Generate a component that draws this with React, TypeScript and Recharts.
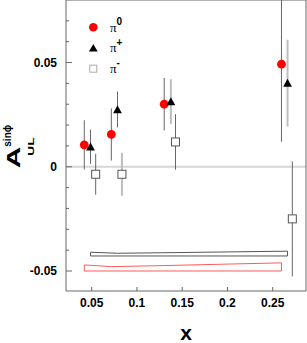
import React from "react";
import {
  ComposedChart,
  Scatter,
  Line,
  XAxis,
  YAxis,
  ErrorBar,
  ReferenceLine,
  Legend,
} from "recharts";

// pi0 (red circles)
const pi0X = [0.0418, 0.0717, 0.1301, 0.2597];
const pi0Y = [0.0105, 0.0155, 0.03, 0.0492];
const pi0Err = [0.0118, 0.0125, 0.0126, 0.0372];

// pi+ (black triangles)
const piPlusX = [0.0487, 0.0785, 0.1375, 0.2664];
const piPlusY = [0.0096, 0.0275, 0.0313, 0.0401];
const piPlusErr = [0.0082, 0.0086, 0.0107, 0.0208];

// pi- (open squares)
const piMinusX = [0.0544, 0.0834, 0.1426, 0.2717];
const piMinusY = [-0.0036, -0.0036, 0.0119, -0.025];
const piMinusErr = [0.0098, 0.0103, 0.0133, 0.0276];

// systematic bands
const pi0SysBase = -0.05;
const pi0SysTop = [-0.0471, -0.0479, -0.0474, -0.0461];
const piPlusSysBase = -0.0428;
const piPlusSysTop = [-0.041, -0.0415, -0.0412, -0.0405];

const seriesNames = ["π0", "π+", "π-"];
const xTicks = [0.05, 0.1, 0.15, 0.2, 0.25];
const yTicks = [-0.05, -0.04, -0.03, -0.02, -0.01, 0, 0.01, 0.02, 0.03, 0.04, 0.05, 0.06, 0.07];
const yMajor = [-0.05, 0, 0.05];

const X_MIN = 0.0216;
const X_MAX = 0.2868;
const Y_MIN = -0.0596;
const Y_MAX = 0.08;

// which error bars are drawn in light grey
const plusLightErr = [false, false, true, true];
const minusLightErr = [false, true, false, false];

const DARK = "#666";
const LIGHT = "#bdbdbd";
const SANS = "'Liberation Sans', Arial, sans-serif";

const toPoints = (xs: number[], ys: number[], errs: number[]) =>
  xs.map((x, i) => ({ x, y: ys[i], err: errs[i] }));

const band = (xs: number[], tops: number[], base: number) => [
  { x: xs[0], y: base },
  ...xs.map((x, i) => ({ x, y: tops[i] })),
  { x: xs[xs.length - 1], y: base },
  { x: xs[0], y: base },
];

const pi0Pts = toPoints(pi0X, pi0Y, pi0Err);
const plusPts = toPoints(piPlusX, piPlusY, piPlusErr);
const minusPts = toPoints(piMinusX, piMinusY, piMinusErr);

const Circle = (p: any) => <circle cx={p.cx} cy={p.cy} r={4.4} fill="#ff0000" />;
const Triangle = (p: any) => (
  <path
    d={`M${p.cx},${p.cy - 4.3}L${p.cx + 4.4},${p.cy + 3.7}L${p.cx - 4.4},${p.cy + 3.7}Z`}
    fill="#000"
  />
);
const Square = (p: any) => (
  <rect x={p.cx - 4} y={p.cy - 4} width={8} height={8} fill="#fff" stroke="#555" strokeWidth={1} />
);
const Nothing = () => <g />;

function fmt(v: number) {
  return String(Math.round(v * 100) / 100);
}

function YTick({ x, y, payload }: any) {
  const v = payload.value;
  const major = yMajor.some((m) => Math.abs(m - v) < 1e-9);
  return (
    <g>
      <line x1={x} x2={x + (major ? 6 : 3)} y1={y} y2={y} stroke={DARK} />
      {major && (
        <text x={x - 9} y={y} dy="0.36em" textAnchor="end" fontFamily={SANS} fontWeight="bold" fontSize={12} fill="#000">
          {fmt(v)}
        </text>
      )}
    </g>
  );
}

function XTick({ x, y, payload }: any) {
  return (
    <g>
      <line x1={x} x2={x} y1={y} y2={y - 4} stroke={DARK} />
      <text x={x} y={y + 16} textAnchor="middle" fontFamily={SANS} fontWeight="bold" fontSize={12} fill="#000">
        {fmt(payload.value)}
      </text>
    </g>
  );
}

// axis titles in an overlay, in page pixels (plot spans x 66..306, y 0..291)
function Titles() {
  return (
    <svg
      width={307}
      height={343}
      style={{ position: "absolute", left: 0, top: 0, pointerEvents: "none" }}
    >
      <text x={186} y={340} textAnchor="middle" fontFamily={SANS} fontWeight="bold" fontSize={21} fill="#000">
        x
      </text>
      <g fontFamily={SANS} fontWeight="bold" fill="#000">
        <text transform="translate(20,168.3) rotate(-90) scale(1.65,1)" fontSize={18}>
          A
        </text>
        <text transform="translate(11,146.7) rotate(-90)" fontSize={10}>
          sinϕ
        </text>
        <text transform="translate(33.5,155.7) rotate(-90) scale(1.45,1)" fontSize={9.5}>
          UL
        </text>
      </g>
    </svg>
  );
}

function legendMarker(name: string, cx: number, cy: number) {
  if (name === "π0") return <circle cx={cx} cy={cy} r={4.3} fill="#ff0000" />;
  if (name === "π+")
    return <path d={`M${cx},${cy - 4}L${cx + 4.4},${cy + 3.5}L${cx - 4.4},${cy + 3.5}Z`} fill="#000" />;
  return <rect x={cx - 3.5} y={cy - 3.5} width={7} height={7} fill="#fff" stroke="#aaa" />;
}

function LegendBox({ payload }: any) {
  const items = (payload || [])
    .filter((p: any) => p.type !== "none" && seriesNames.includes(p.value))
    .sort((a: any, b: any) => seriesNames.indexOf(a.value) - seriesNames.indexOf(b.value));
  return (
    <svg width={45} height={64} style={{ display: "block" }}>
      {items.map((p: any, i: number) => {
        const cy = 12.3 + i * 20.7;
        return (
          <g key={p.value}>
            {legendMarker(p.value, 8.3, cy)}
            <text x={25} y={cy + 4.4} fontFamily="'Liberation Serif', serif" fontSize={13} fill="#000">
              π
            </text>
            <text x={31.5} y={cy - 2.3} fontFamily={SANS} fontWeight="bold" fontSize={10} fill="#000">
              {p.value.slice(1)}
            </text>
          </g>
        );
      })}
    </svg>
  );
}

export default function App() {
  return (
    <div style={{ position: "relative", width: 307, height: 343 }}>
      <style>{"body{margin:0}"}</style>
      <ComposedChart width={307} height={343} margin={{ top: 0, right: 1, bottom: 0, left: 0 }}>
        <XAxis
          type="number"
          dataKey="x"
          domain={[X_MIN, X_MAX]}
          allowDataOverflow
          ticks={xTicks}
          interval={0}
          height={52}
          tickSize={0}
          tickMargin={0}
          tick={<XTick />}
          axisLine={{ stroke: DARK }}
        />
        <YAxis
          type="number"
          dataKey="y"
          domain={[Y_MIN, Y_MAX]}
          allowDataOverflow
          ticks={yTicks}
          interval={0}
          width={66}
          tickSize={0}
          tickMargin={0}
          tick={<YTick />}
          axisLine={{ stroke: DARK }}
        />
        <ReferenceLine y={0} stroke="#d6d6d6" strokeWidth={2} />
        <ReferenceLine y={Y_MAX} stroke={DARK} />
        <ReferenceLine x={X_MAX} stroke={DARK} />
        <Legend
          layout="vertical"
          align="center"
          verticalAlign="middle"
          wrapperStyle={{ top: 15, left: 85, width: "auto" }}
          content={<LegendBox />}
        />

        <Line
          data={band(piPlusX, piPlusSysTop, piPlusSysBase)}
          dataKey="y"
          type="linear"
          stroke="#555"
          strokeWidth={1}
          dot={false}
          legendType="none"
          isAnimationActive={false}
        />
        <Line
          data={band(pi0X, pi0SysTop, pi0SysBase)}
          dataKey="y"
          type="linear"
          stroke="#ff5a5a"
          strokeWidth={1}
          dot={false}
          legendType="none"
          isAnimationActive={false}
        />

        <Scatter name="π0" data={pi0Pts} shape={Circle} isAnimationActive={false}>
          <ErrorBar dataKey="err" direction="y" width={0} stroke={DARK} strokeWidth={1} />
        </Scatter>

        <Scatter data={plusPts.filter((_, i) => !plusLightErr[i])} shape={Nothing} legendType="none" isAnimationActive={false}>
          <ErrorBar dataKey="err" direction="y" width={0} stroke={DARK} strokeWidth={1} />
        </Scatter>
        <Scatter data={plusPts.filter((_, i) => plusLightErr[i])} shape={Nothing} legendType="none" isAnimationActive={false}>
          <ErrorBar dataKey="err" direction="y" width={0} stroke={LIGHT} strokeWidth={2} />
        </Scatter>
        <Scatter name="π+" data={plusPts} shape={Triangle} isAnimationActive={false} />

        <Scatter data={minusPts.filter((_, i) => !minusLightErr[i])} shape={Nothing} legendType="none" isAnimationActive={false}>
          <ErrorBar dataKey="err" direction="y" width={0} stroke={DARK} strokeWidth={1} />
        </Scatter>
        <Scatter data={minusPts.filter((_, i) => minusLightErr[i])} shape={Nothing} legendType="none" isAnimationActive={false}>
          <ErrorBar dataKey="err" direction="y" width={0} stroke={LIGHT} strokeWidth={2} />
        </Scatter>
        <Scatter name="π-" data={minusPts} shape={Square} isAnimationActive={false} />
      </ComposedChart>
      <Titles />
    </div>
  );
}
